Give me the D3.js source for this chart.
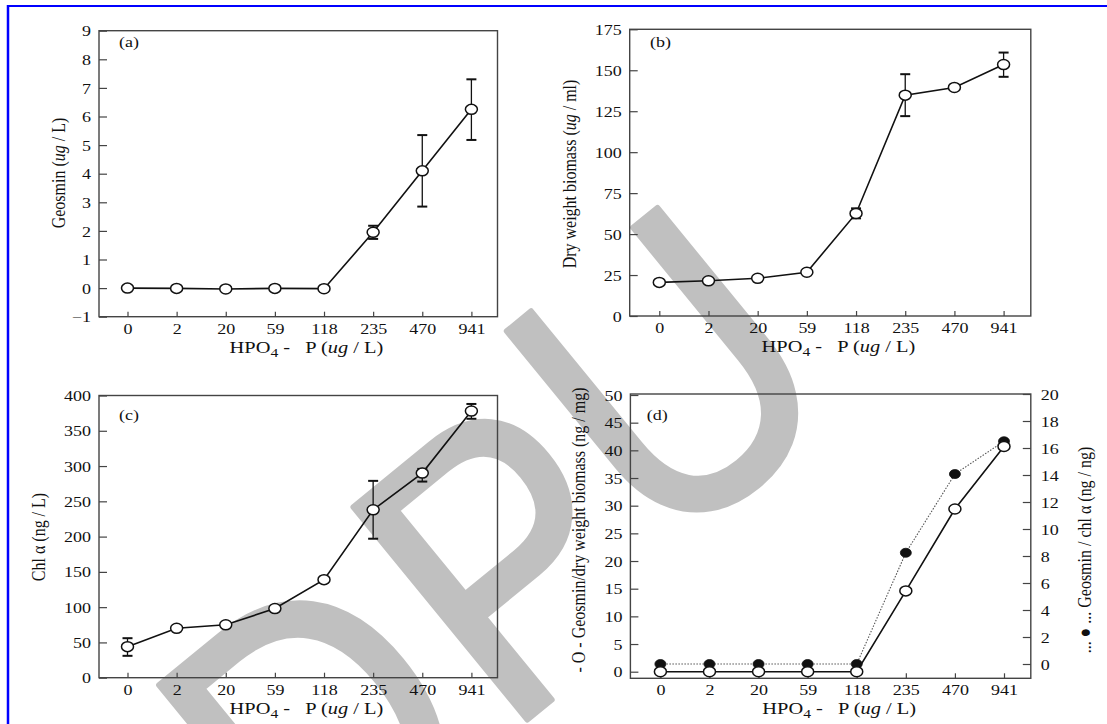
<!DOCTYPE html>
<html>
<head>
<meta charset="utf-8">
<title>HPO4-P response</title>
<script src="https://d3js.org/d3.v7.min.js"></script>
<style>
  body { margin: 0; background: #fff; }
  text { font-family: "Liberation Serif", "Times New Roman", serif; }
</style>
</head>
<body>
<div id="chartContainer"></div>
<script>
// categories (HPO4-P, ug/L)
var phosphate = ["0", "2", "20", "59", "118", "235", "470", "941"];

// (a) geosmin ug/L
var geosmin = [0, -0.01, -0.03, -0.01, -0.02, 1.95, 4.1, 6.25];
var geosminErr = [null, null, null, null, null, [1.72, 2.18], [2.85, 5.35], [5.18, 7.3]];

// (b) dry weight biomass ug/ml
var biomass = [20.5, 21.5, 23, 26.7, 62.6, 134.8, 139.5, 153.5];
var biomassErr = [null, null, null, null, [59.6, 65.7], [122, 147.6], null, [146, 160.8]];

// (c) chl a ng/L
var chl = [44, 70, 75, 98, 139, 238, 290, 378];
var chlErr = [[31, 56], null, null, null, null, [197, 279], [278, 296], [367, 388]];

// (d) ratios
var perBiomass = [0, 0, 0, 0, 0, 14.6, 29.4, 40.7];   // ng/mg, left axis
var perChl = [0, 0, 0, 0, 0, 8.24, 14.07, 16.5];      // ng/ng, right axis

// tick labels
var ticksA = d3.range(-1, 10, 1);
var ticksB = d3.range(0, 176, 25);
var ticksC = d3.range(0, 401, 50);
var ticksDLeft = d3.range(0, 51, 5);
var ticksDRight = d3.range(0, 21, 2);

var SX = 1.2; // the scan is stretched sideways
var INK = "#111";
var FRAME = "#444";
var NB = "\u00a0";

var svg = d3.select("#chartContainer").append("svg")
    .attr("width", 1107)
    .attr("height", 724);

svg.append("rect").attr("width", 1107).attr("height", 724).attr("fill", "#fff");

// watermark, one glyph at a time
[["D", 407, 837], ["P", 594, 665], ["U", 756, 482]].forEach(function (w) {
    svg.append("text")
        .attr("transform", "translate(" + w[1] + "," + w[2] + ") rotate(-39.3) scale(0.862,1)")
        .attr("text-anchor", "middle")
        .style("font-family", "'Liberation Sans', Arial, sans-serif")
        .style("font-size", "399px")
        .attr("fill", "#c0c0c0")
        .attr("stroke", "#c0c0c0")
        .attr("stroke-width", 6)
        .attr("stroke-linejoin", "round")
        .text(w[0]);
});

// blue frame (top and left only)
svg.append("line").attr("x1", 8).attr("y1", 5).attr("x2", 8).attr("y2", 724)
    .attr("stroke", "#0000ff").attr("stroke-width", 2.5);
svg.append("line").attr("x1", 7).attr("y1", 6).attr("x2", 1107).attr("y2", 6)
    .attr("stroke", "#0000ff").attr("stroke-width", 2);

function styleAxis(ax) {
    ax.attr("font-family", null).attr("font-size", null).attr("fill", null);
    ax.select(".domain").remove();
    ax.selectAll("line").attr("stroke", FRAME).attr("stroke-width", 1.2);
    ax.selectAll("text").attr("fill", INK).style("font-size", "15px");
}

function addTitle(g, cx, cy, rotate, parts, size) {
    var t = g.append("text")
        .attr("transform", "translate(" + cx + "," + cy + ") scale(" + SX + ",1)" + (rotate ? " rotate(-90)" : ""))
        .attr("text-anchor", "middle")
        .attr("dy", rotate ? "0.3em" : null)
        .attr("fill", INK)
        .style("font-size", size + "px");
    parts.forEach(function (p) {
        var s = t.append("tspan").text(p.t);
        if (p.i) s.style("font-style", "italic");
        if (p.sub) s.attr("dy", 4).style("font-size", (size - 4) + "px");
        if (p.up) s.attr("dy", -4);
    });
    return t;
}

function drawPanel(p) {
    var g = svg.append("g");
    var x = d3.scalePoint().domain(phosphate).range(p.xr);
    var y = d3.scaleLinear().domain(p.yd).range(p.yr);

    // box
    g.append("rect")
        .attr("x", p.box[0]).attr("y", p.box[1])
        .attr("width", p.box[2] - p.box[0]).attr("height", p.box[3] - p.box[1])
        .attr("fill", "none").attr("stroke", FRAME).attr("stroke-width", 1.4);

    // x axis, ticks point inward
    var xa = g.append("g")
        .attr("transform", "translate(0," + p.box[3] + ")")
        .call(d3.axisBottom(x).tickSizeInner(-5).tickSizeOuter(0));
    styleAxis(xa);
    xa.selectAll("text")
        .attr("y", 0).attr("dy", 0)
        .attr("transform", "translate(0,17) scale(" + SX + ",1)");

    // left axis
    var ya = g.append("g")
        .attr("transform", "translate(" + p.box[0] + ",0)")
        .call(d3.axisLeft(y).tickValues(p.ticks).tickSizeInner(-8).tickSizeOuter(0)
            .tickFormat(function (d) { return d < 0 ? "\u2212" + (-d) : d; }));
    styleAxis(ya);
    ya.selectAll("text")
        .attr("x", 0).attr("dy", "0.34em")
        .attr("transform", "translate(-8,0) scale(" + SX + ",1)");

    var y2 = null;
    if (p.yd2) {
        y2 = d3.scaleLinear().domain(p.yd2).range(p.yr2);
        var ra = g.append("g")
            .attr("transform", "translate(" + p.box[2] + ",0)")
            .call(d3.axisRight(y2).tickValues(p.ticks2).tickSizeInner(-8).tickSizeOuter(0));
        styleAxis(ra);
        ra.selectAll("text")
            .attr("x", 0).attr("dy", "0.34em")
            .attr("transform", "translate(10,0) scale(" + SX + ",1)");
    }

    // panel letter
    g.append("text")
        .attr("transform", "translate(" + p.tag[0] + "," + p.tag[1] + ") scale(" + SX + ",1)")
        .attr("fill", INK).style("font-size", "15px")
        .text(p.tagText);

    // x title
    var xc = (p.xr[0] + p.xr[1]) / 2 + 7;
    addTitle(g, xc, p.box[3] + 36, false, [
        { t: "HPO" }, { t: "4", sub: true }, { t: NB + "-" + NB + NB + NB + "P (", up: true }, { t: "ug", i: true }, { t: " / L)" }
    ], 17);

    // y titles
    addTitle(g, p.ytitle[0], p.ytitle[1], true, p.ytitleParts, 16);
    if (p.ytitle2) addTitle(g, p.ytitle2[0], p.ytitle2[1], true, p.ytitle2Parts, 16);

    // series
    p.series.forEach(function (s) {
        var sy = s.right ? y2 : y;
        var line = d3.line()
            .x(function (d, i) { return x(phosphate[i]); })
            .y(function (d) { return sy(d); });
        g.append("path").datum(s.values)
            .attr("d", line)
            .attr("fill", "none")
            .attr("stroke", s.dotted ? "#555" : INK)
            .attr("stroke-width", s.dotted ? 1.1 : 1.6)
            .attr("stroke-dasharray", s.dotted ? "1.5,1.5" : null);

        if (s.err) {
            var eb = g.append("g").selectAll("g")
                .data(s.err.map(function (e, i) { return { e: e, i: i }; }).filter(function (d) { return d.e; }))
                .enter().append("g")
                .attr("stroke", INK).attr("stroke-width", 1.3);
            eb.append("line")
                .attr("x1", function (d) { return x(phosphate[d.i]); })
                .attr("x2", function (d) { return x(phosphate[d.i]); })
                .attr("y1", function (d) { return sy(d.e[0]); })
                .attr("y2", function (d) { return sy(d.e[1]); });
            [0, 1].forEach(function (k) {
                eb.append("line")
                    .attr("x1", function (d) { return x(phosphate[d.i]) - 5; })
                    .attr("x2", function (d) { return x(phosphate[d.i]) + 5; })
                    .attr("y1", function (d) { return sy(d.e[k]); })
                    .attr("y2", function (d) { return sy(d.e[k]); })
                    .attr("stroke-width", 2);
            });
        }

        g.append("g").selectAll("ellipse")
            .data(s.values)
            .enter().append("ellipse")
            .attr("cx", function (d, i) { return x(phosphate[i]); })
            .attr("cy", function (d) { return sy(d); })
            .attr("rx", s.filled ? 5.5 : 6)
            .attr("ry", s.filled ? 4.5 : 5)
            .attr("fill", s.filled ? INK : "#fff")
            .attr("stroke", INK)
            .attr("stroke-width", s.filled ? 0.8 : 1.5);
    });
}

drawPanel({
    box: [99, 30.7, 497.5, 316.7], xr: [127.5, 471.4],
    yd: [-1, 9], yr: [316.7, 30.7], ticks: ticksA,
    tag: [119, 47], tagText: "(a)",
    ytitle: [59, 173], ytitleParts: [{ t: "Geosmin (" }, { t: "ug", i: true }, { t: " / L)" }],
    series: [{ values: geosmin, err: geosminErr }]
});

drawPanel({
    box: [629.7, 29.3, 1030.8, 316], xr: [659.3, 1003.6],
    yd: [0, 175], yr: [316, 29.3], ticks: ticksB,
    tag: [650, 47], tagText: "(b)",
    ytitle: [570.7, 174], ytitleParts: [{ t: "Dry weight biomass (" }, { t: "ug", i: true }, { t: " / ml)" }],
    series: [{ values: biomass, err: biomassErr }]
});

drawPanel({
    box: [99, 395.5, 497.5, 677.7], xr: [127.5, 471.4],
    yd: [0, 400], yr: [677.7, 395.5], ticks: ticksC,
    tag: [119, 420], tagText: "(c)",
    ytitle: [39.5, 537], ytitleParts: [{ t: "Chl \u03b1 (ng / L)" }],
    series: [{ values: chl, err: chlErr }]
});

drawPanel({
    box: [630.4, 394, 1030.8, 678.3], xr: [660.4, 1004],
    yd: [0, 50], yr: [671.7, 395], ticks: ticksDLeft,
    yd2: [0, 20], yr2: [664, 394], ticks2: ticksDRight,
    tag: [646.7, 420], tagText: "(d)",
    ytitle: [579, 530], ytitleParts: [{ t: "- O - Geosmin/dry weight biomass (ng / mg)" }],
    ytitle2: [1085, 550], ytitle2Parts: [{ t: "... \u25cf ... Geosmin / chl \u03b1 (ng / ng)" }],
    series: [
        { values: perChl, right: true, dotted: true, filled: true },
        { values: perBiomass }
    ]
});
</script>
</body>
</html>
